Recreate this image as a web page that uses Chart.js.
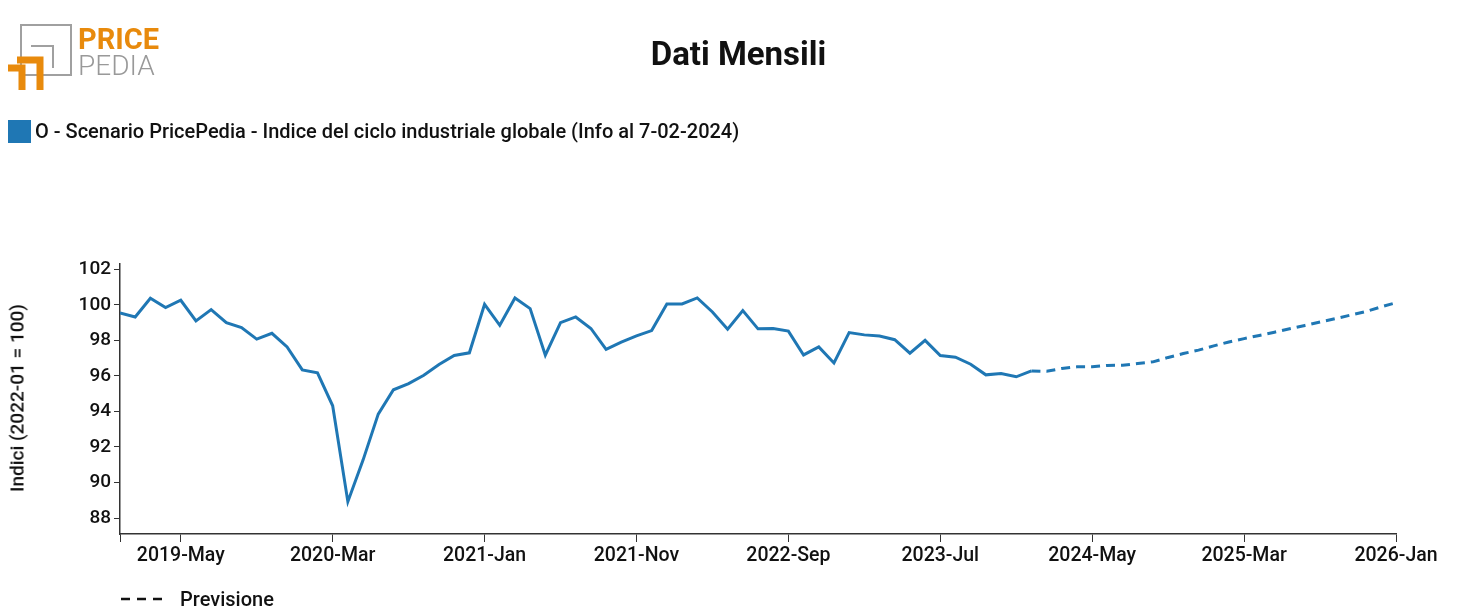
<!DOCTYPE html>
<html><head><meta charset="utf-8">
<script src="https://cdn.jsdelivr.net/npm/chart.js@4"></script>
<style>
body{margin:0;width:1477px;height:615px;overflow:hidden;background:#fff;font-family:Roboto,sans-serif;position:relative}
#wrap{position:absolute;left:0;top:0;width:1477px;height:615px}
.abs{position:absolute;white-space:nowrap}
</style></head><body>
<div id="wrap"><canvas id="c"></canvas></div>
<svg class="abs" style="left:0;top:0" width="80" height="100">
<rect x="21" y="25" width="50" height="50" fill="none" stroke="#a0a0a0" stroke-width="2"/>
<polyline points="31,46 53,46 53,68" fill="none" stroke="#a0a0a0" stroke-width="2"/>
<polyline points="17,60 40,60 40,90" fill="none" stroke="#e88a0c" stroke-width="7"/>
<polyline points="8,68 22,68 22,90" fill="none" stroke="#e88a0c" stroke-width="7"/>
</svg>
<div class="abs" style="left:78px;top:22px;font-size:29px;font-weight:bold;color:#e88a0c">PRICE</div>
<div class="abs" style="left:78px;top:49px;font-size:28px;font-weight:300;color:#999">PEDIA</div>
<div class="abs" style="left:0;width:1477px;top:34px;text-align:center;font-size:33px;font-weight:bold;color:#111">Dati Mensili</div>
<div class="abs" style="left:8px;top:120px;width:23px;height:23px;background:#1f77b4"></div>
<div class="abs" style="left:35px;top:119px;font-size:20px;font-weight:500;color:#111">O - Scenario PricePedia - Indice del ciclo industriale globale (Info al 7-02-2024)</div>
<div class="abs" style="left:17px;top:398px;font-size:19px;font-weight:500;color:#111;transform:translate(-50%,-50%) rotate(-90deg)">Indici (2022-01 = 100)</div>
<svg class="abs" style="left:120px;top:596px" width="50" height="6"><line x1="1" y1="3" x2="48" y2="3" stroke="#111" stroke-width="2.5" stroke-dasharray="9,7"/></svg>
<div class="abs" style="left:180px;top:587px;font-size:20px;font-weight:500;color:#111">Previsione</div>
<script>
const months=["Jan","Feb","Mar","Apr","May","Jun","Jul","Aug","Sep","Oct","Nov","Dec"];
const startYear=2019;
const actual=[99.54,99.32,100.37,99.85,100.26,99.1,99.73,99.0,98.72,98.07,98.4,97.63,
96.34,96.17,94.32,88.92,91.26,93.85,95.22,95.57,96.04,96.64,97.15,97.3,
100.03,98.85,100.39,99.79,97.17,99.0,99.32,98.67,97.49,97.9,98.25,98.55,
100.05,100.05,100.39,99.6,98.63,99.68,98.65,98.67,98.52,97.18,97.63,96.73,
98.44,98.31,98.25,98.04,97.28,98.0,97.15,97.05,96.66,96.06,96.14,95.95,
96.28];
const forecast=[96.28,96.26,96.42,96.51,96.51,96.59,96.6,96.7,96.79,97.04,97.26,97.45,
97.69,97.91,98.1,98.28,98.46,98.65,98.84,99.03,99.22,99.42,99.62,99.88,
100.12];
const forecastStart=60;
const xTicks=[0,4,14,24,34,44,54,64,74,84];
const yTicks=[88,90,92,94,96,98,100,102];
function label(i){if(i===0)return '';const y=startYear+Math.floor(i/12);return y+'-'+months[i%12];}
const blue='#1f77b4';
new Chart(document.getElementById('c'),{
type:'line',
data:{datasets:[
{data:actual.map((v,i)=>({x:i,y:v})),borderColor:blue,borderWidth:3,pointRadius:0,tension:0},
{data:forecast.map((v,i)=>({x:i+forecastStart,y:v})),borderColor:blue,borderWidth:3,borderDash:[9,6],pointRadius:0,tension:0}
]},
options:{responsive:true,maintainAspectRatio:false,animation:false,
layout:{padding:{left:0,top:264,right:81,bottom:0}},
plugins:{legend:{display:false},tooltip:{enabled:false}},
scales:{
x:{type:'linear',min:0,max:84,afterBuildTicks:s=>{s.ticks=xTicks.map(v=>({value:v}))},
afterFit:s=>{s.height=81},
border:{color:'#333',width:1.5},
grid:{display:true,drawOnChartArea:false,drawTicks:true,tickLength:8,color:'#333'},
ticks:{autoSkip:false,maxRotation:0,callback:v=>label(v),color:'#111',font:{family:'Roboto',size:19.5,weight:'500'},padding:2}},
y:{min:87.1,max:102.3,afterBuildTicks:s=>{s.ticks=yTicks.map(v=>({value:v}))},
afterFit:s=>{s.width=120},
border:{color:'#333',width:1.5},
grid:{display:true,drawOnChartArea:false,drawTicks:true,tickLength:6,color:'#333'},
ticks:{color:'#111',font:{family:'Roboto',size:19,weight:'500'},padding:3}}
}}});
</script>
</body></html>
